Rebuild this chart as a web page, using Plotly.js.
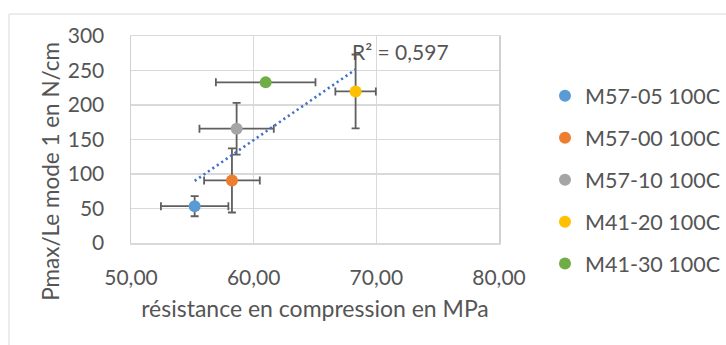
<!DOCTYPE html>
<html>
<head>
<meta charset="utf-8">
<script src="https://cdn.plot.ly/plotly-3.0.1.min.js"></script>
<style>
html,body{margin:0;padding:0;background:#fff;}
#chart{width:726px;height:345px;}
</style>
</head>
<body>
<div id="chart"></div>
<script>
const seriesNames = ['M57-05 100C', 'M57-00 100C', 'M57-10 100C', 'M41-20 100C', 'M41-30 100C'];
const xValues = [55.19, 58.23, 58.61, 68.31, 60.98];
const yValues = [53.3, 90.7, 165.7, 219.7, 232.8];
const xErrors = [2.75, 2.27, 3.03, 1.65, 4.06];
const yErrors = [14.5, 46.5, 37.5, 53.5, 0];
const seriesColors = ['#5B9BD5', '#ED7D31', '#A5A5A5', '#FFC000', '#70AD47'];
const xTickVals = [50, 60, 70, 80];
const yTickVals = [0, 50, 100, 150, 200, 250, 300];
const r2Label = 'R² = 0,597';
const xTitle = 'résistance en compression en MPa';
const yTitle = 'Pmax/Le mode 1 en N/cm';

const textColor = '#555555';
const errColor = '#5f5f5f';
const fontFam = 'Lato, "Open Sans", sans-serif';

const traces = seriesNames.map((name, i) => ({
  type: 'scatter',
  mode: 'markers',
  name: name,
  legendgroup: 'g' + i,
  x: [xValues[i]],
  y: [yValues[i]],
  marker: {color: seriesColors[i], size: 12},
  error_x: {type: 'data', array: [xErrors[i]], visible: true, color: errColor, thickness: 1.8, width: 4},
  error_y: {type: 'data', array: [yErrors[i]], visible: yErrors[i] > 0, color: errColor, thickness: 1.8, width: 4},
  hoverinfo: 'skip'
}));

// linear least-squares trendline over all points
const n = xValues.length;
const mx = xValues.reduce((a, b) => a + b, 0) / n;
const my = yValues.reduce((a, b) => a + b, 0) / n;
let sxy = 0, sxx = 0;
for (let i = 0; i < n; i++) { sxy += (xValues[i] - mx) * (yValues[i] - my); sxx += (xValues[i] - mx) ** 2; }
const slope = sxy / sxx;
const icpt = my - slope * mx;
const xMin = Math.min(...xValues), xMax = Math.max(...xValues);
traces.push({
  type: 'scatter', mode: 'lines', showlegend: false, hoverinfo: 'skip',
  x: [xMin, xMax], y: [icpt + slope * xMin, icpt + slope * xMax],
  line: {color: '#4472C4', width: 2.6, dash: '2.2px,3.2px'}
});

const layout = {
  width: 726, height: 345,
  margin: {l: 131, r: 227, t: 36, b: 102, autoexpand: false},
  paper_bgcolor: '#ffffff', plot_bgcolor: '#ffffff',
  separators: ', ',
  font: {family: fontFam, size: 21, color: textColor},
  showlegend: true,
  legend: {
    x: 1.125, xanchor: 'left', y: 0.81, yanchor: 'top',
    font: {family: fontFam, size: 21.5, color: textColor},
    tracegroupgap: 11, bgcolor: 'rgba(0,0,0,0)'
  },
  xaxis: {
    range: [50, 80], tickvals: xTickVals, tickformat: '.2f',
    showgrid: true, gridcolor: '#d9d9d9', gridwidth: 1.5,
    showline: true, linecolor: '#d9d9d9', linewidth: 1.5, mirror: true,
    zeroline: false, ticks: '', ticklabelstandoff: 15,
    tickfont: {family: fontFam, size: 21, color: textColor},
    title: {text: xTitle, font: {family: fontFam, size: 23, color: textColor}, standoff: 13}
  },
  yaxis: {
    range: [0, 300], tickvals: yTickVals,
    showgrid: true, gridcolor: '#d9d9d9', gridwidth: 1.5,
    showline: true, linecolor: '#d0d0d0', linewidth: 1.5, mirror: true,
    zeroline: false, ticks: '', ticklabelstandoff: 21,
    tickfont: {family: fontFam, size: 21, color: textColor}
  },
  annotations: [
    {x: 71.95, y: 277.7, xref: 'x', yref: 'y', text: r2Label, showarrow: false,
     font: {family: fontFam, size: 21, color: textColor}, xanchor: 'center', yanchor: 'middle'},
    {x: (51 - 131) / 368, y: (243.3 - 172) / 207.3, xref: 'paper', yref: 'paper', text: yTitle,
     textangle: -90, showarrow: false, xanchor: 'center', yanchor: 'middle',
     font: {family: fontFam, size: 22.5, color: textColor}}
  ],
  shapes: [
    {type: 'rect', xref: 'paper', yref: 'paper', x0: (9 - 131) / 368, x1: 2, y0: -1, y1: (243.3 - 14) / 207.3,
     line: {color: '#d9d9d9', width: 1}, fillcolor: 'rgba(0,0,0,0)', layer: 'below'}
  ]
};

Plotly.newPlot('chart', traces, layout, {staticPlot: true, displayModeBar: false});
</script>
</body>
</html>
